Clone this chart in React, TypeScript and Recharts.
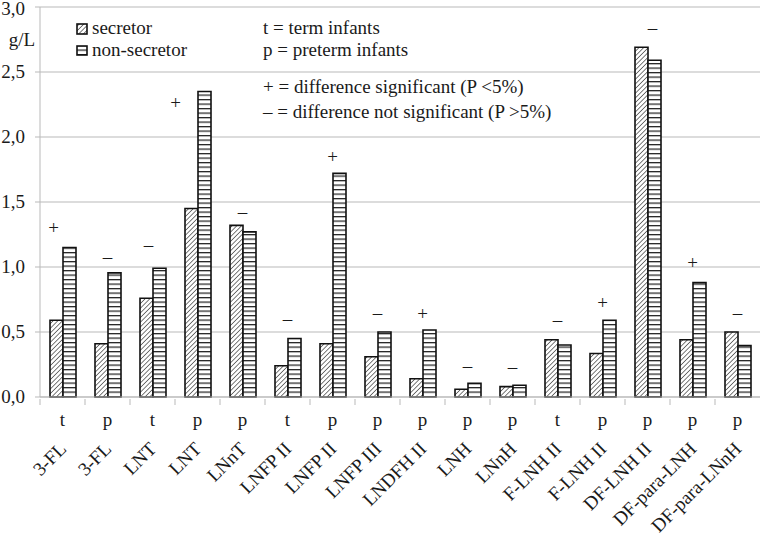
import { ComposedChart, Bar, Scatter, XAxis, YAxis, CartesianGrid } from "recharts";

// oligosaccharide, infant group (t = term, p = preterm)
const oligos = [
  "3-FL", "3-FL", "LNT", "LNT", "LNnT", "LNFP II", "LNFP II", "LNFP III",
  "LNDFH II", "LNH", "LNnH", "F-LNH II", "F-LNH II", "DF-LNH II", "DF-para-LNH", "DF-para-LNnH",
];
const groups = ["t", "p", "t", "p", "p", "t", "p", "p", "p", "p", "p", "t", "p", "p", "p", "p"];

// g/L
const secretor = [0.59, 0.41, 0.76, 1.45, 1.32, 0.24, 0.41, 0.31, 0.14, 0.06, 0.08, 0.44, 0.335, 2.69, 0.44, 0.5];
const nonSecretor = [1.15, 0.955, 0.99, 2.35, 1.27, 0.45, 1.72, 0.5, 0.515, 0.105, 0.09, 0.4, 0.59, 2.59, 0.88, 0.395];

// significance marker and the level (g/L) it sits at
const significance = ["+", "–", "–", "+", "–", "–", "+", "–", "+", "–", "–", "–", "+", "–", "+", "–"];
const markerLevel = [1.3, 1.08, 1.17, 2.26, 1.42, 0.6, 1.85, 0.65, 0.64, 0.24, 0.23, 0.59, 0.72, 2.84, 1.03, 0.65];

const yTicks = [0, 0.5, 1, 1.5, 2, 2.5, 3];

const chartData = oligos.map((_, i) => ({
  idx: i,
  secretor: secretor[i],
  nonSecretor: nonSecretor[i],
  mark: markerLevel[i],
}));

const W = 760;
const H = 534;
const Y_AXIS_W = 40;
const X_AXIS_H = 137;
const CAT_W = (W - Y_AXIS_W) / oligos.length;
const FONT = "Liberation Serif, serif";
const FS = 19;
const INK = "#1a1a1a";
const GRID = "#b9b9b9";
const txt = { fontFamily: FONT, fontSize: FS, fill: INK };

// a few markers sit off-centre in the original
const MARK_NUDGE: Record<number, number> = { 0: -9, 2: -4, 3: -22, 13: 5 };

const CategoryTick = (props: any) => {
  const { x, y, payload } = props;
  const i = payload.value as number;
  const bx = x - CAT_W / 2;
  const lx = x + 5;
  const ly = y + 51;
  return (
    <g>
      <line x1={bx} x2={bx} y1={y} y2={y + 6} stroke={GRID} />
      <text x={x} y={y + 27} textAnchor="middle" style={txt}>
        {groups[i]}
      </text>
      <text x={lx} y={ly} textAnchor="end" style={txt} transform={`rotate(-45, ${lx}, ${ly})`}>
        {oligos[i]}
      </text>
    </g>
  );
};

// top label is pushed down a little so it stays inside the frame
const ValueTick = (props: any) => {
  const { x, y, payload } = props;
  return (
    <text x={x} y={Math.max(y + 6, 15)} textAnchor="end" style={txt}>
      {(payload.value as number).toFixed(1).replace(".", ",")}
    </text>
  );
};

const MarkShape = (props: any) => {
  const { cx, cy, payload } = props;
  const i = payload.idx as number;
  return (
    <text x={cx + (MARK_NUDGE[i] ?? 0)} y={cy + 6} textAnchor="middle" style={txt}>
      {significance[i]}
    </text>
  );
};

export default function App() {
  return (
    <div style={{ position: "absolute", left: 0, top: 0, width: W, height: H, background: "#fff" }}>
      <svg width={0} height={0} style={{ position: "absolute" }}>
        <defs>
          <pattern id="hatchDiag" patternUnits="userSpaceOnUse" width="3.3" height="3.3" patternTransform="rotate(45)">
            <rect width="3.3" height="3.3" fill="#fff" />
            <line x1="0" y1="0" x2="0" y2="3.3" stroke="#222" strokeWidth="1.2" />
          </pattern>
          <pattern id="hatchHoriz" patternUnits="userSpaceOnUse" width="6" height="4.5">
            <rect width="6" height="4.5" fill="#fff" />
            <line x1="0" y1="0.6" x2="6" y2="0.6" stroke="#222" strokeWidth="1.3" />
          </pattern>
        </defs>
      </svg>
      <ComposedChart
        width={W}
        height={H}
        data={chartData}
        margin={{ top: 7, right: 0, bottom: 0, left: 0 }}
        barGap={0}
      >
        <CartesianGrid vertical={false} stroke={GRID} />
        <XAxis
          dataKey="idx"
          type="category"
          height={X_AXIS_H}
          interval={0}
          tickSize={0}
          tickLine={false}
          stroke={GRID}
          tick={<CategoryTick />}
        />
        <YAxis
          domain={[0, 3]}
          ticks={yTicks}
          width={Y_AXIS_W}
          stroke={GRID}
          tickSize={5}
          tickMargin={10}
          tick={<ValueTick />}
        />
        <Bar dataKey="secretor" fill="url(#hatchDiag)" stroke="#111" strokeWidth={1.6} barSize={13} isAnimationActive={false} />
        <Bar dataKey="nonSecretor" fill="url(#hatchHoriz)" stroke="#111" strokeWidth={1.6} barSize={13} isAnimationActive={false} />
        <Scatter dataKey="mark" shape={MarkShape} isAnimationActive={false} />
      </ComposedChart>
      <svg width={W} height={H} style={{ position: "absolute", left: 0, top: 0, pointerEvents: "none" }}>
        <text x={22} y={46} textAnchor="middle" style={txt}>g/L</text>
        <rect x={77} y={24} width={10} height={10} fill="url(#hatchDiag)" stroke="#111" strokeWidth={1.6} />
        <text x={92} y={34} style={txt}>secretor</text>
        <rect x={77} y={46} width={10} height={9} fill="url(#hatchHoriz)" stroke="#111" strokeWidth={1.6} />
        <text x={92} y={56} style={txt}>non-secretor</text>
        <text x={263} y={34} style={txt}>t = term infants</text>
        <text x={263} y={56} style={txt}>p = preterm infants</text>
        <text x={263} y={93} style={txt}>+ = difference significant (P &lt;5%)</text>
        <text x={263} y={118} style={txt}>– = difference not significant (P &gt;5%)</text>
      </svg>
    </div>
  );
}
